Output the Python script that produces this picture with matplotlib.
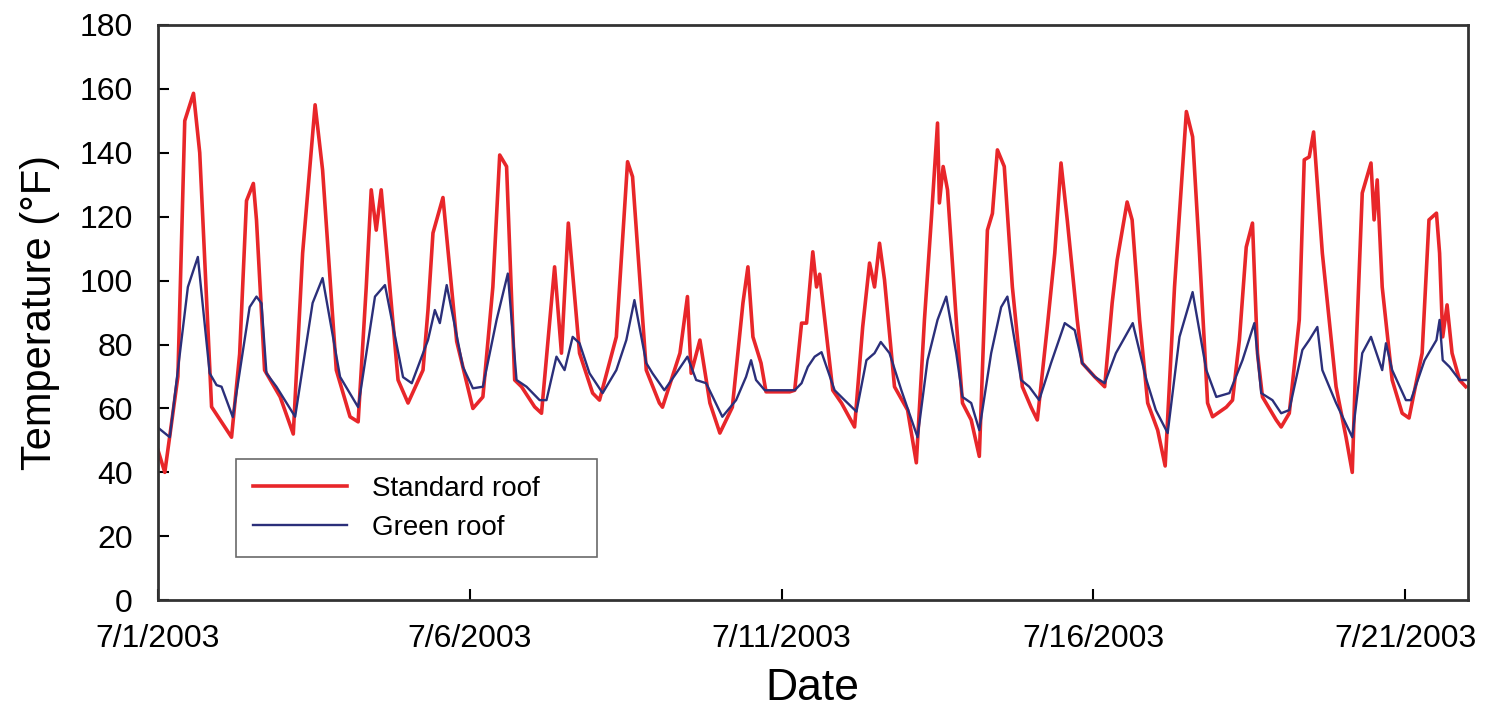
import numpy as np
import pandas as pd
import matplotlib
matplotlib.use("Agg")
import matplotlib.pyplot as plt

plt.rcParams['font.family'] = ['Liberation Sans', 'DejaVu Sans']

start = pd.Timestamp('2003-07-01')

# standard roof: (days since 7/1/2003 00:00, temperature F)
std_days = [0.00, 0.11, 0.32, 0.43, 0.57, 0.67, 0.86, 1.18, 1.31, 1.42, 1.53, 1.58, 1.71, 1.96, 2.17,
            2.32, 2.52, 2.64, 2.86, 3.08, 3.21, 3.34, 3.42, 3.50, 3.58, 3.85, 4.01, 4.25, 4.33, 4.41,
            4.57, 4.79, 5.05, 5.21, 5.37, 5.48, 5.59, 5.72, 5.83, 6.04, 6.15, 6.36, 6.47, 6.58, 6.76,
            6.97, 7.08, 7.35, 7.45, 7.53, 7.61, 7.83, 8.04, 8.09, 8.37, 8.49, 8.55, 8.69, 8.85, 9.01,
            9.21, 9.38, 9.46, 9.54, 9.67, 9.75, 10.13, 10.21, 10.32, 10.40, 10.50, 10.56, 10.61, 10.82,
            10.96, 11.17, 11.30, 11.41, 11.49, 11.57, 11.65, 11.81, 12.02, 12.16, 12.29, 12.40, 12.50,
            12.53, 12.59, 12.66, 12.80, 12.90, 13.04, 13.17, 13.30, 13.38, 13.46, 13.57, 13.70, 13.86,
            14.00, 14.10, 14.26, 14.38, 14.48, 14.58, 14.74, 14.82, 15.02, 15.18, 15.30, 15.38, 15.54,
            15.62, 15.74, 15.87, 16.03, 16.15, 16.30, 16.49, 16.59, 16.70, 16.83, 16.91, 17.13, 17.23,
            17.34, 17.45, 17.55, 17.63, 17.71, 17.93, 18.01, 18.14, 18.30, 18.38, 18.46, 18.53, 18.67,
            18.89, 19.05, 19.15, 19.21, 19.31, 19.45, 19.50, 19.55, 19.63, 19.79, 19.95, 20.06, 20.27,
            20.38, 20.50, 20.55, 20.60, 20.67, 20.75, 20.87, 20.97]
std_temp = [47, 40, 70, 150, 158.6, 140, 60.5, 51, 77, 125, 130.4, 119, 72, 63.6, 52,
            108.6, 155, 134.6, 72, 57.4, 55.8, 98, 128.4, 115.8, 128.4, 68.9, 61.7, 72, 90.8, 114.9,
            126, 81, 60, 63.6, 98, 139.3, 135.7, 68.9, 66.8, 60.5, 58.5, 104.3, 77.3, 118, 77.3,
            64.8, 62.6, 82.4, 112.7, 137.2, 132.5, 72, 61.7, 60.4, 77.3, 95, 71, 81.4, 61.7, 52.3,
            60.4, 93, 104.3, 82.4, 74.2, 65.2, 65.2, 65.7, 86.7, 86.7, 109, 98, 102, 65.7,
            61.7, 54.2, 85.5, 105.5, 98, 111.7, 100.2, 66.8, 59.5, 43, 87.7, 119, 149.3,
            124.3, 135.7, 128.4, 87.7, 61.7, 56.4, 45, 115.8, 121, 140.9, 135.7, 98, 66.8,
            60.4, 56.4, 85.5, 108.6, 136.8, 119, 87.7, 74.2, 69.9, 66.8, 93, 106.4, 124.6,
            119, 87.7, 61.7, 53.2, 42, 98, 152.9, 145, 108.6, 61.7, 57.4, 60.4, 62.6,
            81.4, 110.5, 118, 77.3, 63.6, 56.4, 54.2, 58.5, 87.7, 137.8, 138.7, 146.5, 108.6,
            66.8, 51, 40, 77.3, 127.4, 136.8, 119, 131.5, 98, 68.9, 58.5, 57, 77.3,
            119, 121.1, 108.6, 82.4, 92.4, 77.3, 68.9, 66.8]

# green roof
grn_days = [0.00, 0.19, 0.48, 0.64, 0.83, 0.94, 1.02, 1.20, 1.47, 1.58, 1.66, 1.74, 1.90, 2.20, 2.48,
            2.64, 2.92, 3.21, 3.48, 3.64, 3.93, 4.07, 4.33, 4.44, 4.52, 4.63, 4.89, 5.05, 5.21, 5.43,
            5.61, 5.75, 5.91, 6.12, 6.23, 6.39, 6.52, 6.65, 6.76, 6.92, 7.13, 7.35, 7.51, 7.64, 7.83,
            7.93, 8.12, 8.31, 8.49, 8.63, 8.79, 9.05, 9.27, 9.43, 9.51, 9.59, 9.73, 10.13, 10.21, 10.32,
            10.42, 10.53, 10.64, 10.85, 11.01, 11.20, 11.36, 11.49, 11.59, 11.73, 11.92, 12.18, 12.34,
            12.50, 12.64, 12.80, 12.90, 13.04, 13.17, 13.36, 13.52, 13.62, 13.84, 13.97, 14.13, 14.32,
            14.54, 14.70, 14.82, 15.02, 15.18, 15.36, 15.63, 15.85, 16.00, 16.19, 16.38, 16.59, 16.81,
            16.97, 17.18, 17.39, 17.58, 17.69, 17.87, 18.01, 18.14, 18.35, 18.46, 18.59, 18.67, 18.89,
            19.15, 19.31, 19.45, 19.63, 19.69, 19.79, 20.01, 20.09, 20.31, 20.50, 20.55, 20.60, 20.71,
            20.87, 20.97]
grn_temp = [54, 51, 98, 107.4, 71, 67.3, 66.8, 57.3, 91.7, 95, 92.9, 71, 66.8, 57.4, 93,
            100.8, 69.9, 60.4, 95, 98.6, 69.8, 67.9, 81.4, 90.8, 86.7, 98.6, 73, 66.3, 66.8, 87.7,
            102.2, 68.9, 66.8, 62.6, 62.6, 76.2, 72, 82.4, 80.4, 71, 64.8, 72, 81.4, 93.9, 74.2,
            71, 65.7, 71, 76.2, 68.9, 67.9, 57.4, 62.6, 69.9, 75.1, 68.9, 65.7, 65.7, 65.7, 67.9,
            73, 76.2, 77.6, 65.7, 62.6, 59, 75.1, 77.3, 80.8, 77.3, 65.7, 51, 75.1,
            87.7, 95, 77.3, 63.6, 61.7, 53.2, 77.3, 91.7, 95, 68.9, 66.8, 62.6, 74.2,
            86.7, 84.5, 74.2, 69.9, 67.9, 77.3, 86.7, 68.9, 59.5, 52.3, 82.4, 96.4, 72,
            63.6, 64.8, 75.1, 86.7, 64.8, 62.6, 58.5, 59.5, 78.3, 81.4, 85.5, 72, 61.7,
            51, 77.3, 82.4, 72, 80.4, 72, 62.6, 62.6, 75.1, 81.4, 87.7, 75.1, 73,
            68.9, 68.9]

tick_dates = ['2003-07-01', '2003-07-06', '2003-07-11', '2003-07-16', '2003-07-21']
tick_labels = ['7/1/2003', '7/6/2003', '7/11/2003', '7/16/2003', '7/21/2003']

std_t = start + pd.to_timedelta(std_days, unit='D')
grn_t = start + pd.to_timedelta(grn_days, unit='D')

fig = plt.figure(figsize=(14.9, 7.12), dpi=100)
ax = fig.add_axes([0.106, 0.157, 0.879, 0.808])

ax.plot(std_t, std_temp, color='#e8262a', lw=2.6, label='Standard roof')
ax.plot(grn_t, grn_temp, color='#2b2f7a', lw=1.7, label='Green roof')

ax.set_xlim(start, start + pd.Timedelta(days=21))
ax.set_ylim(0, 180)
ax.set_yticks(np.arange(0, 181, 20))
ax.set_xticks(pd.to_datetime(tick_dates))
ax.set_xticklabels(tick_labels)

ax.tick_params(axis='both', direction='in', length=8, width=1.5, labelsize=23)
ax.tick_params(axis='x', pad=17)
ax.tick_params(axis='y', pad=18)
for s in ax.spines.values():
    s.set_linewidth(2)
    s.set_color('#333333')

ax.set_xlabel('Date', fontsize=32, labelpad=10)
ax.set_ylabel('Temperature (°F)', fontsize=30, labelpad=14)

leg = ax.legend(loc='lower left', bbox_to_anchor=(0.0595, 0.0748, 0.276, 0.165), mode='expand',
                fontsize=20, handlelength=3.4, handletextpad=0.9, frameon=True, fancybox=False,
                edgecolor='#444444', borderpad=0.6, labelspacing=0.45, borderaxespad=0)
leg.get_frame().set_linewidth(1.2)

fig.savefig('out.png', dpi=100)
